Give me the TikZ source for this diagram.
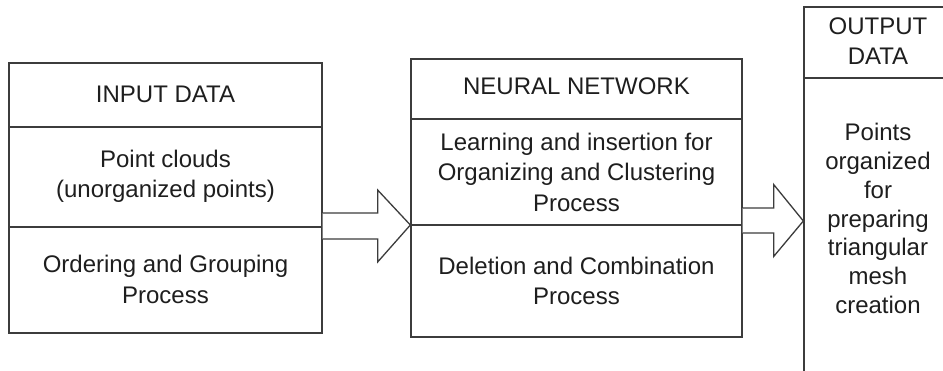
\documentclass[tikz,border=0pt]{standalone}
\usepackage{fontspec}
\setmainfont{Liberation Sans}
\usetikzlibrary{calc}
\definecolor{linegray}{HTML}{3C3C3C}
\definecolor{inkgray}{HTML}{1E1E1E}
\begin{document}
\begin{tikzpicture}[x=1pt,y=-1pt,
  frame/.style={draw=linegray, line width=1.3pt},
  boxframe/.style={frame, inner sep=0pt, minimum width=#1},
  label/.style={font=\fontsize{24}{30.5}\selectfont, text=inkgray, align=center, inner sep=0pt},
  blockarrow/.style={draw=linegray, line width=1.3pt, fill=white, line join=miter}]
\useasboundingbox (0,0) rectangle (943,370);
\clip (0,0) rectangle (943,370);

% outer frames of the three stages
\node[boxframe=313, minimum height=270] (inbox) at (165.5,198) {};
\node[boxframe=331, minimum height=278] (midbox) at (576.5,198) {};
\node[boxframe=156, minimum height=393] (outbox) at (882,203.5) {};

% section dividers
\draw[frame] (inbox.west |- 0,127) -- (inbox.east |- 0,127);
\draw[frame] (inbox.west |- 0,227) -- (inbox.east |- 0,227);
\draw[frame] (midbox.west |- 0,119) -- (midbox.east |- 0,119);
\draw[frame] (midbox.west |- 0,225) -- (midbox.east |- 0,225);
\draw[frame] (outbox.west |- 0,78) -- (outbox.east |- 0,78);

% texts
\node[label] (intitle) at (165.5,94.5) {INPUT DATA};
\node[label] (inpts) at (165.5,176.5) {Point clouds\\(unorganized points)};
\node[label] (inorder) at (165.5,279.5) {Ordering and Grouping\\Process};
\node[label] (midtitle) at (576.5,86.5) {NEURAL NETWORK};
\node[label] (midlearn) at (576.5,172) {Learning and insertion for\\Organizing and Clustering\\Process};
\node[label] (middel) at (576.5,281) {Deletion and Combination\\Process};
\node[label] (outtitle) at (878,41) {OUTPUT\\DATA};
\node[label, font=\fontsize{24}{28.7}\selectfont] (outbody) at (878,218.5)
  {Points\\organized\\for\\preparing\\triangular\\mesh\\creation};

% hollow block arrows between the stages
\coordinate (a1tail) at (inbox.east |- 0,226);
\coordinate (a1tip) at (midbox.west |- 0,225);
\draw[blockarrow] ($(a1tail)+(0,-13)$) -- ($(a1tail)+(55,-13)$) -- ($(a1tail)+(55,-36)$)
  -- (a1tip) -- ($(a1tail)+(55,36)$) -- ($(a1tail)+(55,13)$) -- ($(a1tail)+(0,13)$);

\coordinate (a2tail) at (midbox.east |- 0,220.5);
\coordinate (a2tip) at (outbox.west |- 0,221);
\draw[blockarrow] ($(a2tail)+(0,-12.5)$) -- ($(a2tail)+(31,-12.5)$) -- ($(a2tail)+(31,-36)$)
  -- (a2tip) -- ($(a2tail)+(31,36)$) -- ($(a2tail)+(31,12.5)$) -- ($(a2tail)+(0,12.5)$);
\end{tikzpicture}
\end{document}
